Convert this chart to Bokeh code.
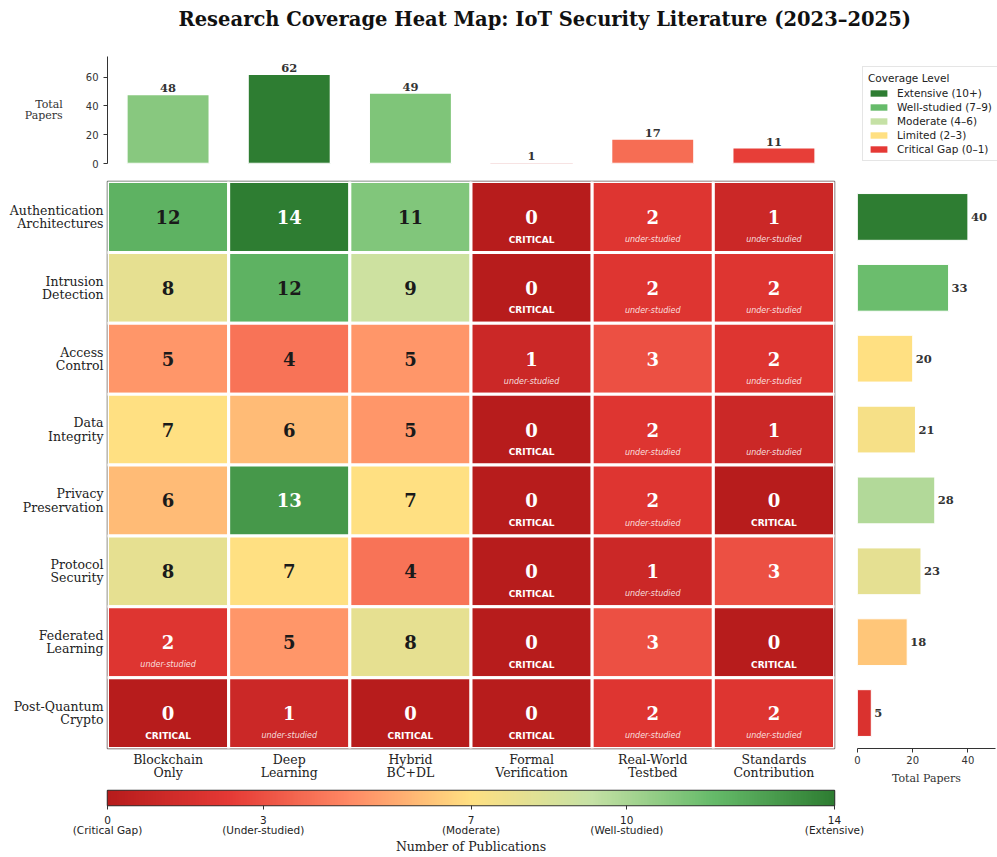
import numpy as np
from bokeh.plotting import figure
from bokeh.layouts import column, row
from bokeh.models import (ColumnDataSource, FactorRange, Range1d, FixedTicker,
                          LinearColorMapper, Legend, LegendItem)
from bokeh.transform import dodge
from bokeh.core.properties import value
from bokeh.embed import file_html
from bokeh.resources import INLINE

# ---------------- data ----------------
title_text = "Research Coverage Heat Map: IoT Security Literature (2023\u20132025)"
rows = ["Authentication\nArchitectures", "Intrusion\nDetection", "Access\nControl",
        "Data\nIntegrity", "Privacy\nPreservation", "Protocol\nSecurity",
        "Federated\nLearning", "Post-Quantum\nCrypto"]
cols = ["Blockchain\nOnly", "Deep\nLearning", "Hybrid\nBC+DL", "Formal\nVerification",
        "Real-World\nTestbed", "Standards\nContribution"]
counts = [
    [12, 14, 11, 0, 2, 1],
    [8, 12, 9, 0, 2, 2],
    [5, 4, 5, 1, 3, 2],
    [7, 6, 5, 0, 2, 1],
    [6, 13, 7, 0, 2, 0],
    [8, 7, 4, 0, 1, 3],
    [2, 5, 8, 0, 3, 0],
    [0, 1, 0, 0, 2, 2],
]
col_totals = [48, 62, 49, 1, 17, 11]
row_totals = [40, 33, 20, 21, 28, 23, 18, 5]
legend_labels = ["Extensive (10+)", "Well-studied (7\u20139)", "Moderate (4\u20136)",
                 "Limited (2\u20133)", "Critical Gap (0\u20131)"]
legend_colors = ["#2e7d32", "#66bb6a", "#c5e1a5", "#ffe082", "#e53935"]
cbar_ticks = [0, 3, 7, 10, 14]
cbar_tick_labels = ["0\n(Critical Gap)", "3\n(Under-studied)", "7\n(Moderate)",
                    "10\n(Well-studied)", "14\n(Extensive)"]
top_ticks = [0, 20, 40, 60]
right_ticks = [0, 20, 40]

# ---------------- colour map ----------------
anchors = ["#b71c1c", "#e53935", "#ff8a65", "#ffe082", "#c5e1a5", "#66bb6a", "#2e7d32"]
VMAX = 14


def hex2rgb(h):
    return tuple(int(h[i:i + 2], 16) for i in (1, 3, 5))


def cmap(v):
    t = min(max(v / VMAX, 0.0), 1.0) * (len(anchors) - 1)
    i = min(int(t), len(anchors) - 2)
    f = t - i
    a, b = hex2rgb(anchors[i]), hex2rgb(anchors[i + 1])
    return "#%02x%02x%02x" % tuple(int(round(a[k] + (b[k] - a[k]) * f)) for k in range(3))


palette = [cmap(VMAX * i / 255) for i in range(256)]
mapper = LinearColorMapper(palette=palette, low=0, high=VMAX)

SERIF = "DejaVu Serif"
SANS = "DejaVu Sans"
W = 997
LH = 0.88


def clean(p):
    p.outline_line_color = None
    p.xgrid.visible = False
    p.ygrid.visible = False
    p.background_fill_color = "white"
    p.border_fill_color = "white"


# ---------------- title strip ----------------
tf = figure(width=W, height=40, x_range=Range1d(0, 1), y_range=Range1d(0, 1),
            output_backend="svg", toolbar_location=None,
            x_axis_location=None, y_axis_location=None,
            min_border_left=107, min_border_right=163, min_border_top=0, min_border_bottom=0)
clean(tf)
tf.title.text = title_text
tf.title.align = "left"
tf.title.offset = 71
tf.title.text_font = SERIF
tf.title.text_font_style = "bold"
tf.title.text_font_size = "19.5px"
tf.title.text_color = "#111111"
tf.title.standoff = 11

# ---------------- shared ranges ----------------
x_range = FactorRange(factors=cols)
y_range = FactorRange(factors=rows[::-1])

# ---------------- top bars ----------------
top = figure(width=845, height=130, x_range=x_range, y_range=Range1d(0, 74.4),
             output_backend="svg", toolbar_location=None,
             min_border_left=107, min_border_right=11, min_border_top=16, min_border_bottom=7)
clean(top)
top.xaxis.visible = False
mx_c = max(col_totals)
top_src = ColumnDataSource(dict(x=cols, top=col_totals,
                                color=[cmap(v / mx_c * VMAX) for v in col_totals],
                                lab=[str(v) for v in col_totals]))
top.vbar(x="x", top="top", width=0.68, source=top_src, fill_color="color",
         line_color="white", line_width=1.5)
top.text(x="x", y="top", text="lab", source=top_src, text_align="center",
         text_baseline="bottom", y_offset=-2, text_font=value(SERIF),
         text_font_style="bold", text_font_size="11.5px", text_color="#333333")
ya = top.yaxis[0]
ya.ticker = FixedTicker(ticks=top_ticks)
ya.minor_tick_line_color = None
ya.major_tick_out = 4
ya.major_tick_in = 0
ya.axis_line_color = "#333333"
ya.major_tick_line_color = "#333333"
ya.major_label_text_font = SANS
ya.major_label_text_font_size = "10px"
ya.major_label_text_color = "#333333"
ya.axis_label = "Total\nPapers"
ya.axis_label_orientation = "horizontal"
ya.axis_label_text_font = SERIF
ya.axis_label_text_font_style = "normal"
ya.axis_label_text_font_size = "11px"
ya.axis_label_text_color = "#333333"
ya.axis_label_text_line_height = LH
ya.axis_label_standoff = 20

# ---------------- legend panel ----------------
lf = figure(width=152, height=130, x_range=Range1d(0, 1), y_range=Range1d(0, 1),
            output_backend="svg", toolbar_location=None,
            x_axis_location=None, y_axis_location=None,
            min_border_left=7, min_border_right=0, min_border_top=7, min_border_bottom=0)
clean(lf)
items = []
for lab, c in zip(legend_labels, legend_colors):
    r = lf.rect(x=[np.nan], y=[np.nan], width=1, height=1, fill_color=c, line_color=None)
    items.append(LegendItem(label=lab, renderers=[r]))
leg = Legend(items=items, location="top_left", title="Coverage Level",
             title_text_font=SANS, title_text_font_size="10.5px", title_text_font_style="normal",
             title_text_color="#222222", title_standoff=3, title_text_align="center",
             label_text_font=SANS, label_text_font_size="10.5px", label_text_color="#222222",
             glyph_width=21, glyph_height=8, label_height=12, label_standoff=8,
             spacing=2, padding=5, margin=10, border_line_color="#cccccc",
             border_line_width=1, background_fill_alpha=0.9)
lf.add_layout(leg, "center")

# ---------------- heatmap ----------------
heat = figure(width=845, height=617, x_range=x_range, y_range=y_range,
              output_backend="svg", toolbar_location=None,
              min_border_left=107, min_border_right=11, min_border_top=11, min_border_bottom=38)
clean(heat)
heat.outline_line_color = "#555555"
heat.outline_line_width = 1.5
xs, ys, vals, fills, tcols, crit_x, crit_y, us_x, us_y = [], [], [], [], [], [], [], [], []
for ri, rname in enumerate(rows):
    for ci, cname in enumerate(cols):
        v = counts[ri][ci]
        xs.append(cname)
        ys.append(rname)
        vals.append(str(v))
        fills.append(cmap(v))
        tcols.append("white" if (v <= 3 or v >= 13) else "#1a1a1a")
        if v == 0:
            crit_x.append(cname); crit_y.append(rname)
        elif v <= 2:
            us_x.append(cname); us_y.append(rname)
hsrc = ColumnDataSource(dict(x=xs, y=ys, v=vals, fill=fills, tc=tcols))
heat.rect(x="x", y="y", width=1, height=1, source=hsrc, fill_color="fill",
          line_color="white", line_width=3)
heat.text(x="x", y="y", text="v", source=hsrc, text_align="center", text_baseline="middle",
          text_color="tc", text_font=value(SERIF), text_font_style="bold", text_font_size="18px")
csrc = ColumnDataSource(dict(x=crit_x, y=crit_y, t=["CRITICAL"] * len(crit_x)))
heat.text(x="x", y=dodge("y", -0.32, range=y_range), text="t", source=csrc,
          text_align="center", text_baseline="middle", text_color="white",
          text_font=value(SANS), text_font_style="bold", text_font_size="9px")
usrc = ColumnDataSource(dict(x=us_x, y=us_y, t=["under-studied"] * len(us_x)))
heat.text(x="x", y=dodge("y", -0.32, range=y_range), text="t", source=usrc,
          text_align="center", text_baseline="middle", text_color="white", text_alpha=0.85,
          text_font=value(SANS), text_font_style="italic", text_font_size="8px")
for ax in (heat.xaxis[0], heat.yaxis[0]):
    ax.axis_line_color = None
    ax.major_tick_line_color = None
    ax.minor_tick_line_color = None
    ax.major_tick_out = 0
    ax.major_tick_in = 0
    ax.major_label_text_font = SERIF
    ax.major_label_text_font_size = "12.5px"
    ax.major_label_text_color = "#222222"
    ax.major_label_text_line_height = LH
heat.xaxis[0].major_label_standoff = 3
heat.yaxis[0].major_label_standoff = 4

# ---------------- right bars ----------------
rt = figure(width=152, height=617, x_range=Range1d(0, 50), y_range=y_range,
            output_backend="svg", toolbar_location=None,
            min_border_left=12, min_border_right=2, min_border_top=11, min_border_bottom=38)
clean(rt)
rt.yaxis.visible = False
mx_r = max(row_totals)
rsrc = ColumnDataSource(dict(y=rows, right=row_totals,
                             color=[cmap(v / mx_r * VMAX) for v in row_totals],
                             lab=[str(v) for v in row_totals]))
rt.hbar(y="y", right="right", left=0, height=0.66, source=rsrc, fill_color="color",
        line_color="white", line_width=1)
rt.text(x="right", y="y", text="lab", source=rsrc, text_align="left", text_baseline="middle",
        x_offset=3, text_font=value(SERIF), text_font_style="bold", text_font_size="11.5px",
        text_color="#333333")
xa = rt.xaxis[0]
xa.ticker = FixedTicker(ticks=right_ticks)
xa.minor_tick_line_color = None
xa.major_tick_out = 4
xa.major_tick_in = 0
xa.axis_line_color = "#333333"
xa.major_tick_line_color = "#333333"
xa.major_label_text_font = SANS
xa.major_label_text_font_size = "10px"
xa.major_label_text_color = "#333333"
xa.major_label_standoff = 3
xa.axis_label = "Total Papers"
xa.axis_label_text_font = SERIF
xa.axis_label_text_font_style = "normal"
xa.axis_label_text_font_size = "11px"
xa.axis_label_text_color = "#333333"
xa.axis_label_standoff = 5

# ---------------- colour bar ----------------
cb = figure(width=W, height=70, x_range=Range1d(0, VMAX), y_range=Range1d(0, 1),
            output_backend="svg", toolbar_location=None, y_axis_location=None,
            min_border_left=107, min_border_right=163, min_border_top=3, min_border_bottom=45)
clean(cb)
cb.outline_line_color = "#333333"
cb.outline_line_width = 1.5
grad = np.linspace(0, VMAX, 512).reshape(1, -1)
cb.image(image=[grad], x=0, y=0, dw=VMAX, dh=1, color_mapper=mapper)
ca = cb.xaxis[0]
ca.ticker = FixedTicker(ticks=cbar_ticks)
ca.major_label_overrides = {t: l for t, l in zip(cbar_ticks, cbar_tick_labels)}
ca.minor_tick_line_color = None
ca.axis_line_color = None
ca.major_tick_out = 4
ca.major_tick_in = 0
ca.major_tick_line_color = "#333333"
ca.major_label_text_font = SANS
ca.major_label_text_font_size = "10.5px"
ca.major_label_text_color = "#222222"
ca.major_label_text_line_height = 0.9
ca.major_label_standoff = 4
ca.axis_label = "Number of Publications"
ca.axis_label_text_font = SERIF
ca.axis_label_text_font_style = "normal"
ca.axis_label_text_font_size = "12.5px"
ca.axis_label_text_color = "#222222"
ca.axis_label_standoff = 0

layout = column(tf, row(top, lf), row(heat, rt), cb)
open("out.html", "w").write(file_html(layout, INLINE))
